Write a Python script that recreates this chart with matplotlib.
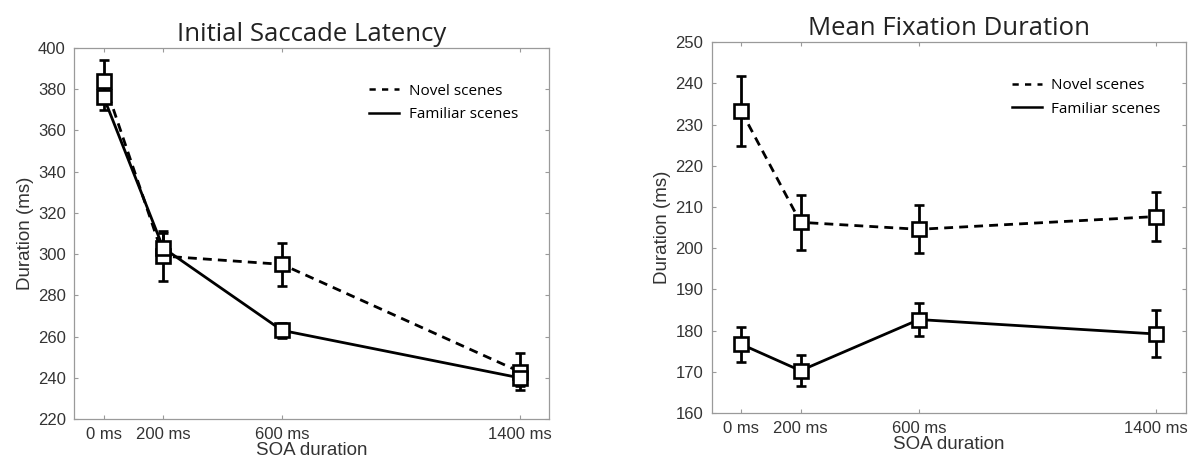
import matplotlib
matplotlib.use("Agg")
import matplotlib.pyplot as plt
from matplotlib.lines import Line2D

# SOA durations (ms) and tick labels
soa        = [0, 200, 600, 1400]
soa_labels = ["0 ms", "200 ms", "600 ms", "1400 ms"]

# Initial saccade latency (ms)
lat_novel        = [384, 299, 295, 243]
lat_novel_err    = [10, 12, 10.5, 9]
lat_familiar     = [376, 303, 263, 240]
lat_familiar_err = [6, 7, 3.5, 4]

# Mean fixation duration (ms)
fix_novel        = [233.3, 206.3, 204.6, 207.7]
fix_novel_err    = [8.5, 6.6, 5.8, 6]
fix_familiar     = [176.7, 170.3, 182.7, 179.2]
fix_familiar_err = [4.3, 3.8, 4.0, 5.7]

TITLE_FONT = "Open Sans"
BODY_FONT  = "Liberation Sans"
SPINE_COL  = "#9a9a9a"
TEXT_COL   = "#333333"


def draw_panel(ax, title, novel, novel_err, fam, fam_err, ylim, yticks, leg_x):
    kw = dict(marker="s", markersize=9.5, markerfacecolor="white",
              markeredgecolor="black", markeredgewidth=1.9,
              color="black", lw=2.0, ecolor="black", elinewidth=2.0,
              capsize=3.5, capthick=2.0)
    ax.errorbar(soa, novel, yerr=novel_err, ls=(0, (3.2, 2.2)), **kw)
    ax.errorbar(soa, fam, yerr=fam_err, ls="-", **kw)

    ax.set_xlim(-100, 1500)
    ax.set_ylim(*ylim)
    ax.set_xticks(soa)
    ax.set_xticklabels(soa_labels)
    ax.set_yticks(yticks)
    ax.tick_params(direction="in", length=3, width=0.8, color=SPINE_COL,
                   top=True, right=True, labelsize=12, labelcolor=TEXT_COL, pad=6)
    for lab in ax.get_xticklabels() + ax.get_yticklabels():
        lab.set_family(BODY_FONT)
    for sp in ax.spines.values():
        sp.set_color(SPINE_COL)
        sp.set_linewidth(0.9)

    ax.set_title(title, family=TITLE_FONT, fontsize=18.5, color="#222222", pad=5)
    ax.set_xlabel("SOA duration", family=BODY_FONT, fontsize=13.5,
                  color=TEXT_COL, labelpad=0)
    ax.set_ylabel("Duration (ms)", family=BODY_FONT, fontsize=13.5,
                  color=TEXT_COL, labelpad=3)

    handles = [Line2D([], [], color="black", lw=1.8, ls=(0, (2.5, 2.5))),
               Line2D([], [], color="black", lw=1.8, ls="-")]
    ax.legend(handles, ["Novel scenes", "Familiar scenes"], loc="upper right",
              bbox_to_anchor=(leg_x, 0.94), frameon=False, handlelength=2.0,
              handletextpad=0.6, labelspacing=0.55,
              prop={"family": TITLE_FONT, "size": 11})


fig = plt.figure(figsize=(11.94, 4.59), dpi=100)
ax1 = fig.add_axes([0.062, 0.087, 0.398, 0.809])
ax2 = fig.add_axes([0.596, 0.100, 0.397, 0.808])

draw_panel(ax1, "Initial Saccade Latency", lat_novel, lat_novel_err,
           lat_familiar, lat_familiar_err, (220, 400), range(220, 401, 20), 0.963)
draw_panel(ax2, "Mean Fixation Duration", fix_novel, fix_novel_err,
           fix_familiar, fix_familiar_err, (160, 250), range(160, 251, 10), 0.976)

fig.savefig("out.png", dpi=100)
